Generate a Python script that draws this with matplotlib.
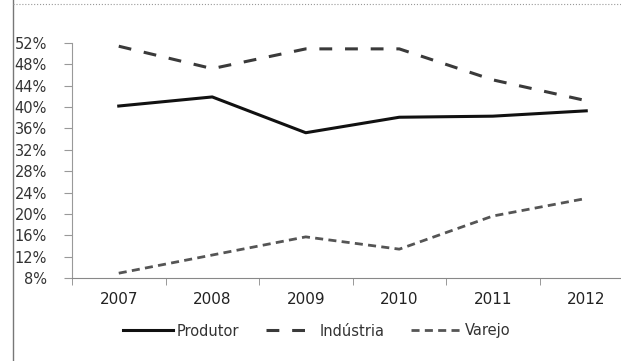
import matplotlib
matplotlib.use("Agg")
import matplotlib.pyplot as plt
from matplotlib.ticker import FuncFormatter, FixedLocator

years = ["2007", "2008", "2009", "2010", "2011", "2012"]
produtor = [40.2, 41.9, 35.2, 38.1, 38.3, 39.3]
industria = [51.4, 47.2, 50.9, 50.9, 45.1, 41.2]
varejo = [8.9, 12.3, 15.7, 13.4, 19.6, 22.9]
y_ticks = list(range(8, 53, 4))

fig = plt.figure(figsize=(6.21, 3.61), dpi=100)
ax = fig.add_axes([72 / 621, 1 - 278 / 361, (633 - 72) / 621, (278 - 43) / 361])

x = list(range(len(years)))
ax.plot(x, produtor, color="#111111", lw=2.2, label="Produtor")
ax.plot(x, industria, color="#3a3a3a", lw=2.2, dashes=(4.2, 4.2), label="Indústria")
ax.plot(x, varejo, color="#555555", lw=2.0, dashes=(2.9, 1.9), label="Varejo")

ax.set_xlim(-0.5, len(years) - 0.5)
ax.set_ylim(8, 52)
ax.yaxis.set_major_locator(FixedLocator(y_ticks))
ax.yaxis.set_major_formatter(FuncFormatter(lambda v, p: "%d%%" % v))
ax.set_xticks(x)
ax.set_xticklabels(years)
ax.xaxis.set_minor_locator(FixedLocator([i + 0.5 for i in range(-1, len(years))]))
ax.tick_params(axis="x", which="major", length=0, pad=10, labelsize=11, colors="#222222")
ax.tick_params(axis="x", which="minor", length=5, color="#888888")
ax.tick_params(axis="y", length=6, color="#999999", labelsize=10.5, labelcolor="#333333", pad=12)

for s in ["top", "right"]:
    ax.spines[s].set_visible(False)
ax.spines["left"].set_color("#999999")
ax.spines["bottom"].set_color("#888888")

leg = fig.legend(loc="center", bbox_to_anchor=(0.51, 1 - 331 / 361), ncol=3, frameon=False,
                 fontsize=10.5, handlelength=3.4, columnspacing=1.8, handletextpad=0.3)
for t in leg.get_texts():
    t.set_color("#333333")

# frame of the scanned chart
fig.add_artist(plt.Line2D([13 / 621, 13 / 621], [0, 1], color="#777777", lw=1))
fig.add_artist(plt.Line2D([13 / 621, 1], [1 - 4 / 361, 1 - 4 / 361], color="#999999", lw=0.8, ls=":"))

fig.savefig("out.png", dpi=100)
